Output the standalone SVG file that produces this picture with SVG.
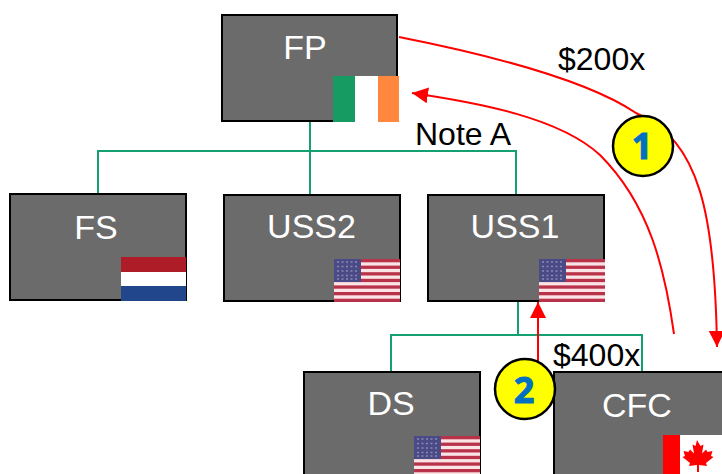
<svg xmlns="http://www.w3.org/2000/svg" xmlns:xlink="http://www.w3.org/1999/xlink" width="722" height="474" viewBox="0 0 722 474">
<style>
.box{fill:#6b6b6b;stroke:#000;stroke-width:2}
.name{font-family:"Liberation Sans",Arial,sans-serif;font-size:34px;fill:#fff;text-anchor:middle}
.lbl{font-family:"Liberation Sans",Arial,sans-serif;font-size:32px;fill:#000}
.g{fill:none;stroke:#15a072;stroke-width:2}
.r{fill:none;stroke:#f00;stroke-width:2}
.badge{fill:#ff0;stroke:#000;stroke-width:2.5}
.num{font-family:"Open Sans","DejaVu Sans",sans-serif;font-size:36px;font-weight:700;fill:#0070c0;stroke:#0070c0;stroke-width:1;text-anchor:middle}
</style>
<defs>
<marker id="ah" viewBox="0 0 16 16" refX="16" refY="8" markerWidth="16" markerHeight="16" markerUnits="userSpaceOnUse" orient="auto"><path d="M0 0L16 8L0 16z" fill="#f00"/></marker>
<g id="us">
<rect width="66" height="43" fill="#fbe4e6"/>
<g fill="#b8324a"><rect y="0" width="66" height="3.3"/><rect y="6.6" width="66" height="3.3"/><rect y="13.2" width="66" height="3.3"/><rect y="19.8" width="66" height="3.3"/><rect y="26.4" width="66" height="3.3"/><rect y="33" width="66" height="3.3"/><rect y="39.7" width="66" height="3.3"/></g>
<rect width="27" height="23" fill="#4a4a86"/>
<path d="M3 3h21M3 7.500h21M3 12h21M3 16.500h21M3 20h21" stroke="#8a8ab4" stroke-width="1.500" stroke-dasharray="2 2.500" fill="none"/>
</g>
</defs>
<g id="connectors">
<path class="g" d="M310 121V194M98 194V151H516V195"/>
<path class="g" d="M518 301V335M391 372V335H642V374"/>
<path class="r" d="M399 37C500 57 590 82 636 113C700 140 715 215 717 347" marker-end="url(#ah)"/>
<path class="r" d="M674 334C665 270 650 205 600 155C560 118 480 103 412 93" marker-end="url(#ah)"/>
<path class="r" d="M538 372V302" marker-end="url(#ah)"/>
</g>
<g id="node-fp"><rect class="box" x="222" y="15" width="175" height="106"/><text class="name" x="305" y="59">FP</text>
<rect x="333" y="76" width="22" height="46" fill="#169b62"/><rect x="355" y="76" width="23" height="46" fill="#fff"/><rect x="378" y="76" width="21" height="46" fill="#ff883e"/></g>
<g id="node-fs"><rect class="box" x="10" y="194" width="176" height="106"/><text class="name" x="96" y="239">FS</text>
<rect x="121" y="257" width="65" height="15" fill="#ae1c28"/><rect x="121" y="272" width="65" height="14" fill="#fff"/><rect x="121" y="286" width="65" height="15" fill="#21468b"/></g>
<g id="node-uss2"><rect class="box" x="224" y="195" width="176" height="106"/><text class="name" x="311.500" y="238">USS2</text><use xlink:href="#us" href="#us" x="334" y="259"/></g>
<g id="node-uss1"><rect class="box" x="428" y="195" width="176" height="106"/><text class="name" x="515" y="238">USS1</text><use xlink:href="#us" href="#us" x="539" y="259"/></g>
<g id="node-ds"><rect class="box" x="304" y="372" width="176" height="106"/><text class="name" x="391" y="415">DS</text><use xlink:href="#us" href="#us" x="414" y="436"/></g>
<g id="node-cfc"><rect class="box" x="554" y="372" width="176" height="106"/><text class="name" x="637" y="417">CFC</text>
<rect x="663" y="435" width="59" height="39" fill="#fff"/><rect x="663" y="435" width="17" height="39" fill="#f00"/>
<path d="M697 440l3.500 6 3-1.500-1.500 9 4-4 1.500 2.500 5-1-1.500 5 2.500 1-7.500 6 1 3-8-1v7h-2v-7l-8 1 1-3-7.500-6 2.500-1-1.500-5 5 1 1.500-2.500 4 4-1.500-9 3 1.500z" fill="#f00"/></g>
<text class="lbl" x="558" y="70">$200x</text>
<text class="lbl" x="415" y="145">Note A</text>
<text class="lbl" x="553" y="366">$400x</text>
<g id="badge-1"><circle class="badge" cx="643" cy="146" r="30"/><text class="num" x="642" y="159">1</text></g>
<g id="badge-2"><circle class="badge" cx="525" cy="389" r="30"/><text class="num" x="524" y="403">2</text></g>
</svg>
